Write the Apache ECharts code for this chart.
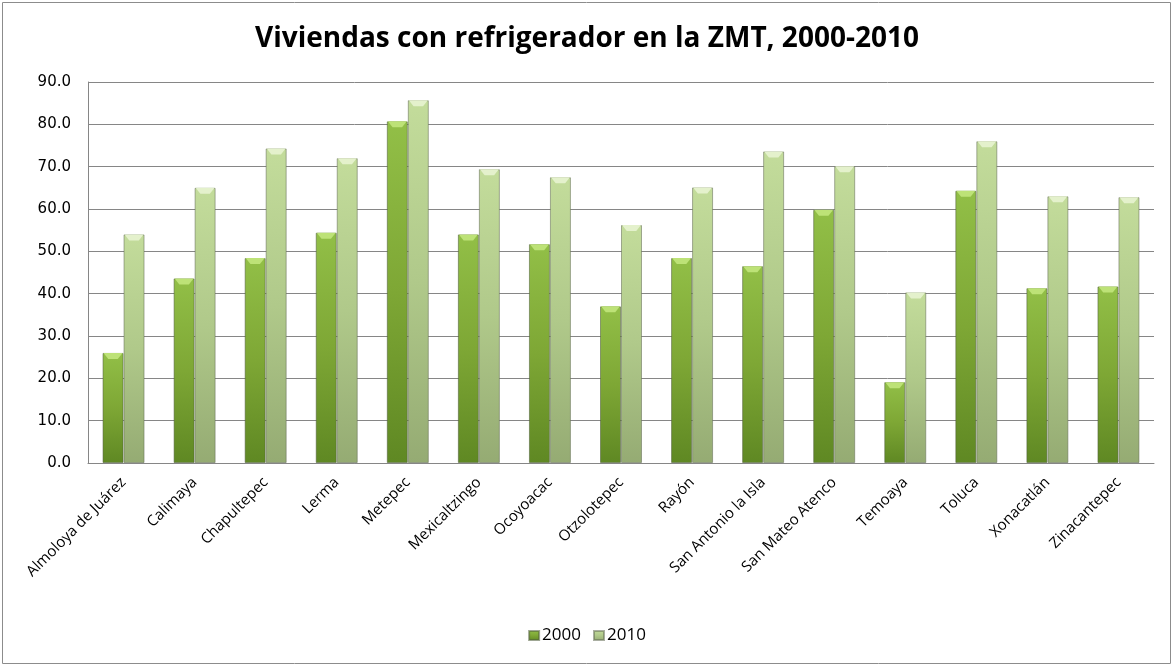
<!DOCTYPE html>
<html>
<head>
<meta charset="utf-8">
<script src="https://cdn.jsdelivr.net/npm/echarts@6/dist/echarts.min.js"></script>
<style>
  html, body { margin: 0; padding: 0; background: #fff; }
  #chart { width: 1174px; height: 667px; }
</style>
</head>
<body>
<div id="chart"></div>
<script>
const municipios = [
  'Almoloya de Juárez', 'Calimaya', 'Chapultepec', 'Lerma', 'Metepec',
  'Mexicaltzingo', 'Ocoyoacac', 'Otzolotepec', 'Rayón', 'San Antonio la Isla',
  'San Mateo Atenco', 'Temoaya', 'Toluca', 'Xonacatlán', 'Zinacantepec'
]
const valores2000 = [26.0, 43.6, 48.4, 54.4, 80.7, 54.0, 51.7, 37.0, 48.4, 46.5, 59.8, 19.1, 64.3, 41.3, 41.7]
const valores2010 = [54.0, 65.0, 74.3, 72.0, 85.7, 69.4, 67.5, 56.2, 65.1, 73.6, 70.1, 40.3, 76.0, 63.0, 62.8]

const chart = echarts.init(document.getElementById('chart'))

// lighter at the top, darker at the base, like the original bevelled bars
function barShade(top, mid, bottom) {
  return new echarts.graphic.LinearGradient(0, 0, 0, 1, [
    { offset: 0, color: top },
    { offset: 0.5, color: mid },
    { offset: 1, color: bottom }
  ])
}

const font = '"Open Sans", "Liberation Sans", sans-serif'
const bevel = 'path://M0,0 L10,0 L7.5,3 L2.5,3 Z'

// small bevel drawn on top of each bar
function bevelSeries(name, data, dx, color) {
  return {
    name: name,
    type: 'pictorialBar',
    data: data,
    barWidth: 21,
    barGap: '-100%',
    symbol: bevel,
    symbolSize: [19, 6],
    symbolPosition: 'end',
    symbolOffset: [dx, 0],
    itemStyle: { color: color },
    silent: true,
    z: 3
  }
}

chart.setOption({
  animation: false,
  graphic: [{
    type: 'rect',
    shape: { x: 2.5, y: 2.5, width: 1168, height: 661 },
    style: { fill: 'none', stroke: '#8c8c8c', lineWidth: 1 },
    silent: true
  }],
  title: {
    text: 'Viviendas con refrigerador en la ZMT, 2000-2010',
    left: 'center',
    top: 20,
    textStyle: {
      fontFamily: font,
      fontSize: 28,
      fontWeight: 'bold',
      color: '#000'
    }
  },
  legend: {
    bottom: 18,
    left: 'center',
    itemWidth: 10,
    itemHeight: 9,
    itemGap: 12,
    icon: 'rect',
    textStyle: { fontFamily: font, fontSize: 17, color: '#000', padding: [0, 0, 0, -2] },
    data: ['2000', '2010']
  },
  grid: {
    left: 88,
    right: 20,
    top: 82,
    bottom: 204
  },
  xAxis: {
    type: 'category',
    data: municipios,
    axisLine: { lineStyle: { color: '#868686', width: 1 } },
    axisTick: { show: false },
    axisLabel: {
      rotate: 45,
      interval: 0,
      margin: 17,
      fontFamily: font,
      fontSize: 15,
      color: '#000'
    }
  },
  yAxis: {
    type: 'value',
    min: 0,
    max: 90,
    interval: 10,
    axisLine: { show: true, lineStyle: { color: '#868686', width: 1 } },
    axisTick: { show: false },
    splitLine: { lineStyle: { color: '#868686', width: 1 } },
    axisLabel: {
      formatter: v => v.toFixed(1),
      margin: 17,
      fontFamily: '"DejaVu Sans", sans-serif',
      fontSize: 15,
      color: '#000'
    }
  },
  series: [
    {
      name: '2000',
      type: 'bar',
      data: valores2000,
      barWidth: 21,
      barGap: '0%',
      itemStyle: {
        color: barShade('#92bf47', '#7ea735', '#5f8823'),
        borderColor: 'rgba(80,95,60,0.55)',
        borderWidth: 1
      }
    },
    {
      name: '2010',
      type: 'bar',
      data: valores2010,
      barWidth: 21,
      itemStyle: {
        color: barShade('#c3dc9b', '#b0c98a', '#95ab73'),
        borderColor: 'rgba(100,110,85,0.55)',
        borderWidth: 1
      }
    },
    bevelSeries('2000 tope', valores2000, -10.5, '#bde277'),
    bevelSeries('2010 tope', valores2010, 10.5, '#e4f1cc')
  ]
})
</script>
</body>
</html>
